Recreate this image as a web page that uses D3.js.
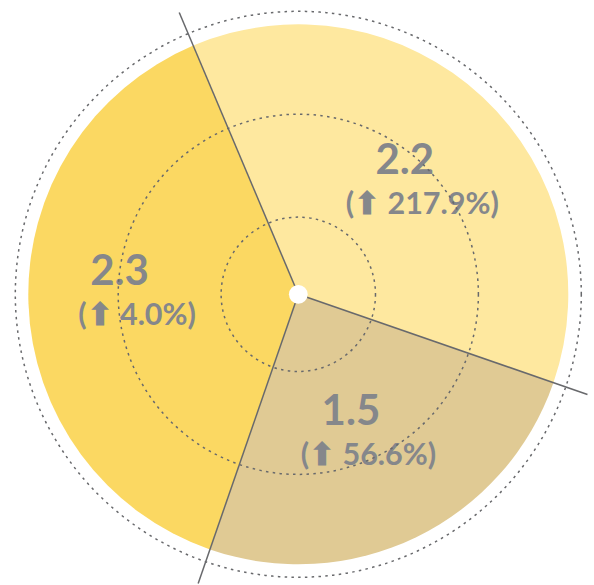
<!DOCTYPE html>
<html>
<head>
<meta charset="utf-8">
<script src="https://cdn.jsdelivr.net/npm/d3@7"></script>
<style>
  html, body { margin: 0; padding: 0; background: #ffffff; }
  svg { display: block; }
</style>
</head>
<body>
<svg id="chart" width="594" height="585"></svg>
<script>
// Data
const values = [2.2, 1.5, 2.3];
const growth = [217.9, 56.6, 4.0];
const ringTicks = [0.75, 1.75, 2.75];

// Layout and style
const width = 594, height = 585;
const cx = 298.3, cy = 294.3;
const outerR = 270;
const spokeLen = 306;
const startDeg = -22.9;
const sliceFill = ["#FEE89F", "#E0CA94", "#FBD862"];
const labelRadius = [161, 141, 179];
const labelTurnDeg = [-1.7, 4, 4.9];
const textColor = "#85878B";
const lineColor = "#68696C";

const svg = d3.select("#chart");
const g = svg.append("g").attr("transform", `translate(${cx},${cy})`);

const rad = d => d * Math.PI / 180;

const pie = d3.pie()
  .sort(null)
  .value(d => d)
  .startAngle(rad(startDeg))
  .endAngle(rad(startDeg) + 2 * Math.PI);

const arcs = pie(values);
const arc = d3.arc().innerRadius(0).outerRadius(outerR);

// slices
g.selectAll("path.slice")
  .data(arcs)
  .join("path")
  .attr("class", "slice")
  .attr("d", arc)
  .attr("fill", (d, i) => sliceFill[i]);

// value labels
const labels = g.selectAll("g.label")
  .data(arcs)
  .join("g")
  .attr("class", "label")
  .attr("transform", (d, i) => {
    const a = (d.startAngle + d.endAngle) / 2 + rad(labelTurnDeg[i]);
    const r = labelRadius[i];
    return `translate(${r * Math.sin(a)},${-r * Math.cos(a)})`;
  });

labels.append("text")
  .attr("text-anchor", "middle")
  .attr("font-family", "Lato, 'Open Sans', sans-serif")
  .attr("font-weight", 700)
  .attr("font-size", 42)
  .attr("fill", textColor)
  .text(d => d3.format(".1f")(d.data));

labels.append("text")
  .attr("x", 17.5)
  .attr("y", 40)
  .attr("text-anchor", "middle")
  .attr("font-family", "Lato, 'Open Sans', sans-serif")
  .attr("font-weight", 700)
  .attr("font-size", 30.5)
  .attr("fill", textColor)
  .text((d, i) => `(\u2B06 ${d3.format(".1f")(growth[i])}%)`);

// dotted reference rings
const rScale = d3.scaleLinear().domain([0, 2.75]).range([0, 283]);
g.selectAll("circle.ring")
  .data(ringTicks)
  .join("circle")
  .attr("class", "ring")
  .attr("r", d => rScale(d))
  .attr("fill", "none")
  .attr("stroke", lineColor)
  .attr("stroke-width", 1.5)
  .attr("stroke-dasharray", "2.5,4.3");

// spokes at slice boundaries
g.selectAll("line.spoke")
  .data(arcs)
  .join("line")
  .attr("class", "spoke")
  .attr("x1", 0).attr("y1", 0)
  .attr("x2", d => spokeLen * Math.sin(d.startAngle))
  .attr("y2", d => -spokeLen * Math.cos(d.startAngle))
  .attr("stroke", lineColor)
  .attr("stroke-width", 1.5);

// hub
g.append("circle").attr("r", 9.4).attr("fill", "#ffffff");
</script>
</body>
</html>
